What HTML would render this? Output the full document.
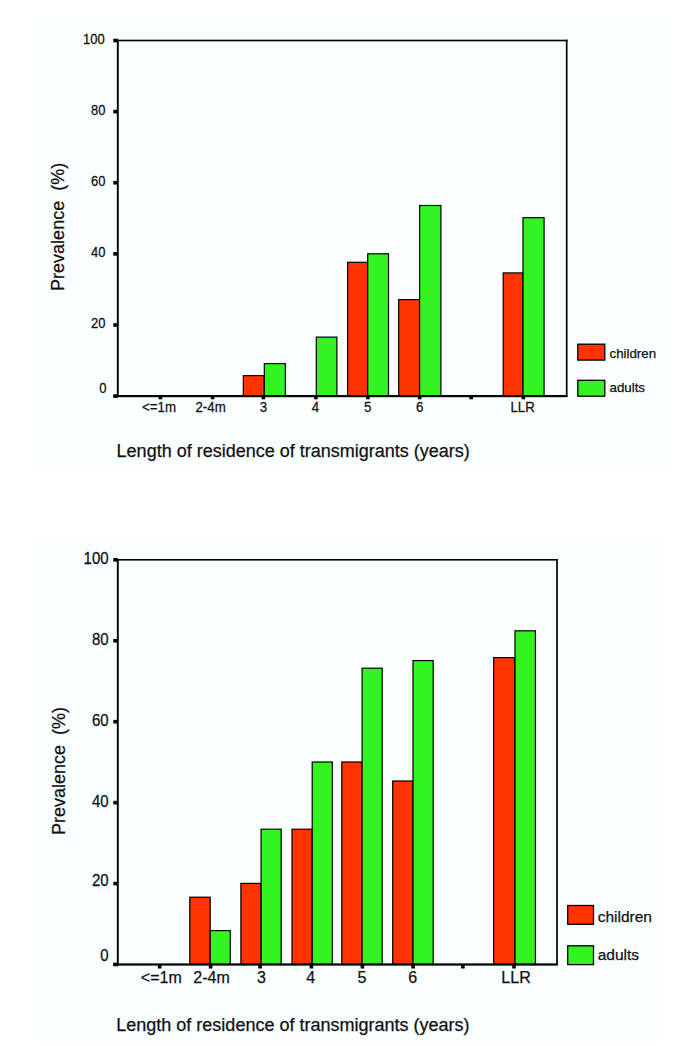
<!DOCTYPE html>
<html><head><meta charset="utf-8"><style>
html,body{margin:0;padding:0;background:#fff;}
svg{display:block;}
text{font-family:"Liberation Sans", sans-serif;fill:#111;stroke:#111;stroke-width:0.25px;}
</style></head><body>
<svg width="685" height="1046" viewBox="0 0 685 1046">
<rect width="685" height="1046" fill="#fff"/>
<rect x="32" y="18" width="639" height="448" fill="#f9fefe"/>
<rect x="243.30" y="375.60" width="21.00" height="20.50" fill="#ff3300" stroke="#000" stroke-width="1.2"/>
<rect x="264.30" y="363.60" width="21.10" height="32.50" fill="#33f322" stroke="#000" stroke-width="1.2"/>
<rect x="316.30" y="337.10" width="20.60" height="59.00" fill="#33f322" stroke="#000" stroke-width="1.2"/>
<rect x="347.60" y="262.30" width="20.10" height="133.80" fill="#ff3300" stroke="#000" stroke-width="1.2"/>
<rect x="367.70" y="253.80" width="20.80" height="142.30" fill="#33f322" stroke="#000" stroke-width="1.2"/>
<rect x="398.70" y="299.60" width="20.90" height="96.50" fill="#ff3300" stroke="#000" stroke-width="1.2"/>
<rect x="419.60" y="205.50" width="21.30" height="190.60" fill="#33f322" stroke="#000" stroke-width="1.2"/>
<rect x="503.20" y="272.90" width="19.80" height="123.20" fill="#ff3300" stroke="#000" stroke-width="1.2"/>
<rect x="523.00" y="217.70" width="21.10" height="178.40" fill="#33f322" stroke="#000" stroke-width="1.2"/>
<rect x="116.8" y="39.7" width="450.70000000000005" height="1.6" fill="#000"/>
<rect x="565.85" y="39.7" width="1.7" height="356.6" fill="#000"/>
<rect x="116.85" y="39.7" width="1.9" height="357.40000000000003" fill="#000"/>
<rect x="113.3" y="395.0" width="454.3" height="2.2" fill="#000"/>
<rect x="113.3" y="38.70" width="4.5" height="3.6" fill="#000"/>
<text transform="translate(104.70,43.60) scale(0.96,1.06)" text-anchor="end" font-size="13.5">100</text>
<rect x="113.3" y="109.82" width="4.5" height="3.6" fill="#000"/>
<text transform="translate(105.50,114.72) scale(0.96,1.06)" text-anchor="end" font-size="13.5">80</text>
<rect x="113.3" y="180.94" width="4.5" height="3.6" fill="#000"/>
<text transform="translate(105.50,185.84) scale(0.96,1.06)" text-anchor="end" font-size="13.5">60</text>
<rect x="113.3" y="252.06" width="4.5" height="3.6" fill="#000"/>
<text transform="translate(105.50,256.96) scale(0.96,1.06)" text-anchor="end" font-size="13.5">40</text>
<rect x="113.3" y="323.18" width="4.5" height="3.6" fill="#000"/>
<text transform="translate(105.50,328.08) scale(0.96,1.06)" text-anchor="end" font-size="13.5">20</text>
<rect x="113.3" y="394.30" width="4.5" height="3.6" fill="#000"/>
<text transform="translate(106.40,392.50) scale(0.96,1.06)" text-anchor="end" font-size="13.5">0</text>
<rect x="158.60" y="396.1" width="3.6" height="3.2" fill="#000"/>
<text transform="translate(159.00,411.6) scale(0.95,1)" text-anchor="middle" font-size="14">&lt;=1m</text>
<rect x="210.80" y="396.1" width="3.6" height="3.2" fill="#000"/>
<text transform="translate(210.60,411.6) scale(0.95,1)" text-anchor="middle" font-size="14">2-4m</text>
<rect x="261.60" y="396.1" width="3.6" height="3.2" fill="#000"/>
<text transform="translate(263.40,411.6) scale(0.95,1)" text-anchor="middle" font-size="14">3</text>
<rect x="314.00" y="396.1" width="3.6" height="3.2" fill="#000"/>
<text transform="translate(315.50,411.6) scale(0.95,1)" text-anchor="middle" font-size="14">4</text>
<rect x="366.10" y="396.1" width="3.6" height="3.2" fill="#000"/>
<text transform="translate(367.60,411.6) scale(0.95,1)" text-anchor="middle" font-size="14">5</text>
<rect x="417.90" y="396.1" width="3.6" height="3.2" fill="#000"/>
<text transform="translate(419.60,411.6) scale(0.95,1)" text-anchor="middle" font-size="14">6</text>
<rect x="469.30" y="396.1" width="3.6" height="3.2" fill="#000"/>
<rect x="521.60" y="396.1" width="3.6" height="3.2" fill="#000"/>
<text transform="translate(522.60,411.6) scale(0.95,1)" text-anchor="middle" font-size="14">LLR</text>
<rect x="577.8" y="344.2" width="27" height="15.9" fill="#ff3300" stroke="#000" stroke-width="1.3"/>
<rect x="577.8" y="380.3" width="27" height="15.9" fill="#33f322" stroke="#000" stroke-width="1.3"/>
<text x="609.5" y="357.9" font-size="13.3">children</text>
<text x="609.5" y="392.3" font-size="13.3">adults</text>
<text transform="translate(64,290.9) rotate(-90)" font-size="18" xml:space="preserve">Prevalence  (%)</text>
<text x="116.6" y="456.9" font-size="18">Length of residence of transmigrants (years)</text>
<rect x="37" y="536" width="622" height="506" fill="#f9fefe"/>
<rect x="189.80" y="897.20" width="20.40" height="67.30" fill="#ff3300" stroke="#000" stroke-width="1.2"/>
<rect x="210.20" y="930.60" width="20.10" height="33.90" fill="#33f322" stroke="#000" stroke-width="1.2"/>
<rect x="240.90" y="883.40" width="20.20" height="81.10" fill="#ff3300" stroke="#000" stroke-width="1.2"/>
<rect x="261.10" y="829.20" width="20.10" height="135.30" fill="#33f322" stroke="#000" stroke-width="1.2"/>
<rect x="292.00" y="829.20" width="20.20" height="135.30" fill="#ff3300" stroke="#000" stroke-width="1.2"/>
<rect x="312.20" y="762.00" width="20.10" height="202.50" fill="#33f322" stroke="#000" stroke-width="1.2"/>
<rect x="341.80" y="762.00" width="20.30" height="202.50" fill="#ff3300" stroke="#000" stroke-width="1.2"/>
<rect x="362.10" y="668.20" width="20.10" height="296.30" fill="#33f322" stroke="#000" stroke-width="1.2"/>
<rect x="392.70" y="781.00" width="20.30" height="183.50" fill="#ff3300" stroke="#000" stroke-width="1.2"/>
<rect x="413.00" y="660.60" width="20.20" height="303.90" fill="#33f322" stroke="#000" stroke-width="1.2"/>
<rect x="493.60" y="657.60" width="21.40" height="306.90" fill="#ff3300" stroke="#000" stroke-width="1.2"/>
<rect x="515.00" y="630.80" width="20.40" height="333.70" fill="#33f322" stroke="#000" stroke-width="1.2"/>
<rect x="116.8" y="559.0" width="441.0" height="1.6" fill="#000"/>
<rect x="556.15" y="559.0" width="1.7" height="405.70000000000005" fill="#000"/>
<rect x="116.85" y="559.0" width="1.9" height="406.50000000000006" fill="#000"/>
<rect x="113.3" y="963.4" width="444.59999999999997" height="2.2" fill="#000"/>
<rect x="113.3" y="558.00" width="4.5" height="3.6" fill="#000"/>
<text transform="translate(108.60,564.20) scale(1,1.05)" text-anchor="end" font-size="15">100</text>
<rect x="113.3" y="638.94" width="4.5" height="3.6" fill="#000"/>
<text transform="translate(108.60,645.14) scale(1,1.05)" text-anchor="end" font-size="15">80</text>
<rect x="113.3" y="719.88" width="4.5" height="3.6" fill="#000"/>
<text transform="translate(108.60,726.08) scale(1,1.05)" text-anchor="end" font-size="15">60</text>
<rect x="113.3" y="800.82" width="4.5" height="3.6" fill="#000"/>
<text transform="translate(108.60,807.02) scale(1,1.05)" text-anchor="end" font-size="15">40</text>
<rect x="113.3" y="881.76" width="4.5" height="3.6" fill="#000"/>
<text transform="translate(108.60,886.16) scale(1,1.05)" text-anchor="end" font-size="15">20</text>
<rect x="113.3" y="962.70" width="4.5" height="3.6" fill="#000"/>
<text transform="translate(108.60,960.50) scale(1,1.05)" text-anchor="end" font-size="15">0</text>
<rect x="157.90" y="964.5" width="3.6" height="4" fill="#000"/>
<text transform="translate(161.30,983) scale(1,1)" text-anchor="middle" font-size="16">&lt;=1m</text>
<rect x="208.80" y="964.5" width="3.6" height="4" fill="#000"/>
<text transform="translate(211.50,983) scale(1,1)" text-anchor="middle" font-size="16">2-4m</text>
<rect x="258.30" y="964.5" width="3.6" height="4" fill="#000"/>
<text transform="translate(261.40,983) scale(1,1)" text-anchor="middle" font-size="16">3</text>
<rect x="309.60" y="964.5" width="3.6" height="4" fill="#000"/>
<text transform="translate(310.70,983) scale(1,1)" text-anchor="middle" font-size="16">4</text>
<rect x="360.60" y="964.5" width="3.6" height="4" fill="#000"/>
<text transform="translate(362.00,983) scale(1,1)" text-anchor="middle" font-size="16">5</text>
<rect x="411.30" y="964.5" width="3.6" height="4" fill="#000"/>
<text transform="translate(412.60,983) scale(1,1)" text-anchor="middle" font-size="16">6</text>
<rect x="461.10" y="964.5" width="3.6" height="4" fill="#000"/>
<rect x="512.20" y="964.5" width="3.6" height="4" fill="#000"/>
<text transform="translate(516.00,983) scale(1,1)" text-anchor="middle" font-size="16">LLR</text>
<rect x="567.7" y="905.5" width="25.8" height="18.8" fill="#ff3300" stroke="#000" stroke-width="1.3"/>
<rect x="567.7" y="945.8" width="25.8" height="18.8" fill="#33f322" stroke="#000" stroke-width="1.3"/>
<text x="597.7" y="921.6" font-size="15.5">children</text>
<text x="597.7" y="959.5" font-size="15.5">adults</text>
<text transform="translate(65,835.0) rotate(-90)" font-size="18" xml:space="preserve">Prevalence  (%)</text>
<text x="116.3" y="1031.0" font-size="18">Length of residence of transmigrants (years)</text>
</svg>
</body></html>
